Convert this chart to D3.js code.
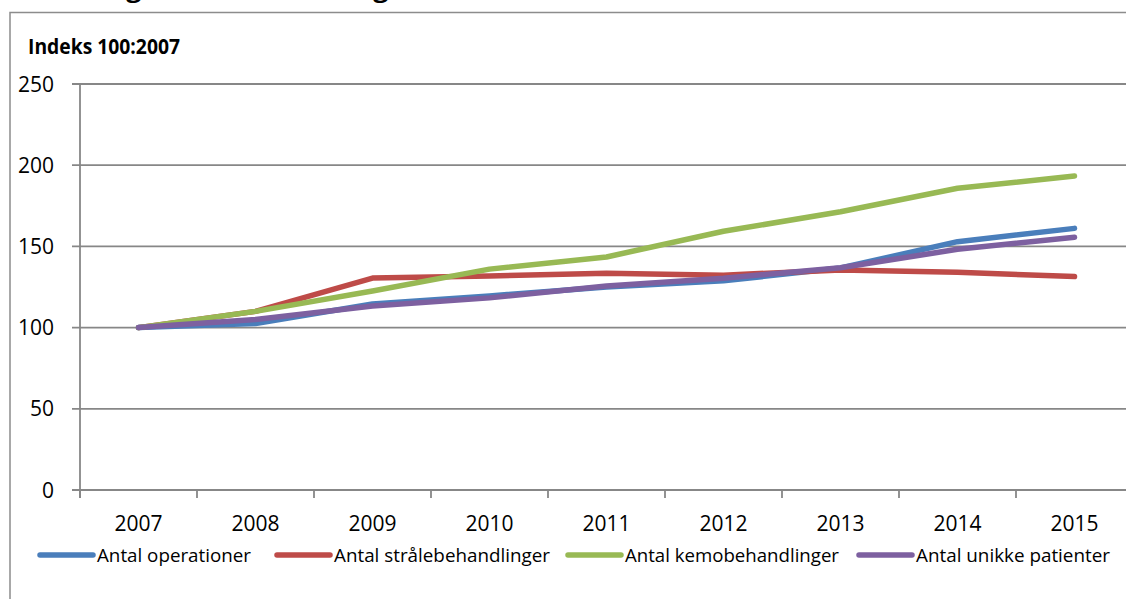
<!DOCTYPE html>
<html>
<head>
  <meta charset="utf-8">
  <title>Indeks 100:2007</title>
  <style>
    body { margin: 0; padding: 0; background: #fff; overflow: hidden; }
    text { font-family: "Open Sans", sans-serif; fill: #000; }
  </style>
</head>
<body>
  <div id="chart"></div>
  <script src="https://d3js.org/d3.v7.min.js"></script>
  <script>
    const years = ['2007', '2008', '2009', '2010', '2011', '2012', '2013', '2014', '2015'];
    const operationer = [100, 102.5, 114.5, 119.5, 125, 128.8, 136.7, 152.9, 161.1];
    const straale = [100, 110, 130.5, 131.8, 133.5, 132.3, 135.5, 134.1, 131.4];
    const kemo = [100, 110, 122.5, 136, 143.5, 159.3, 171.3, 185.8, 193.3];
    const patienter = [100, 105, 113.3, 118.3, 125.6, 130.4, 136.9, 148.2, 155.6];
    const yTicks = [0, 50, 100, 150, 200, 250];

    const series = [
      { name: 'Antal operationer', values: operationer, color: '#4a7ebb' },
      { name: 'Antal strålebehandlinger', values: straale, color: '#be4b48' },
      { name: 'Antal kemobehandlinger', values: kemo, color: '#98b954' },
      { name: 'Antal unikke patienter', values: patienter, color: '#7d60a0' }
    ];

    const width = 1126, height = 599;
    const plot = { left: 80, right: 1133, top: 84, bottom: 490 };

    const svg = d3.select('#chart').append('svg')
      .attr('width', width).attr('height', height);

    // title sits above the crop, only its descenders show
    svg.append('text')
      .attr('x', 16).attr('y', -3)
      .attr('font-size', 24).attr('font-weight', 'bold')
      .attr('textLength', 400).attr('lengthAdjust', 'spacingAndGlyphs')
      .text('Udvikling i antal behandlinger');

    // outer frame (right and bottom sides are outside the picture)
    svg.append('rect')
      .attr('x', 10).attr('y', 12.5)
      .attr('width', 1200).attr('height', 700)
      .attr('fill', 'none').attr('stroke', '#8c8c8c').attr('stroke-width', 1.5);

    const x = d3.scalePoint().domain(years).range([plot.left, plot.right]).padding(0.5);
    const y = d3.scaleLinear().domain([0, 250]).range([plot.bottom, plot.top]);

    // horizontal gridlines
    svg.append('g')
      .selectAll('line')
      .data(yTicks)
      .enter().append('line')
      .attr('x1', plot.left - 8).attr('x2', plot.right)
      .attr('y1', d => y(d)).attr('y2', d => y(d))
      .attr('stroke', '#878787').attr('stroke-width', 1.8);

    svg.append('line')
      .attr('x1', plot.left).attr('x2', plot.left)
      .attr('y1', plot.top).attr('y2', plot.bottom + 8)
      .attr('stroke', '#878787').attr('stroke-width', 1.8);

    // x tick marks on the category edges
    const step = x.step();
    svg.append('g')
      .selectAll('line')
      .data(d3.range(years.length + 1))
      .enter().append('line')
      .attr('x1', i => plot.left + i * step).attr('x2', i => plot.left + i * step)
      .attr('y1', plot.bottom).attr('y2', plot.bottom + 8)
      .attr('stroke', '#878787').attr('stroke-width', 1.8);

    svg.append('g')
      .selectAll('text')
      .data(yTicks)
      .enter().append('text')
      .attr('x', 54).attr('y', d => y(d) + 7.5)
      .attr('text-anchor', 'end')
      .attr('font-size', 21)
      .text(d => d);

    svg.append('g')
      .selectAll('text')
      .data(years)
      .enter().append('text')
      .attr('x', d => x(d)).attr('y', 531)
      .attr('text-anchor', 'middle')
      .attr('font-size', 21)
      .text(d => d);

    svg.append('text')
      .attr('x', 28).attr('y', 54)
      .attr('font-size', 21).attr('font-weight', 'bold')
      .attr('textLength', 152).attr('lengthAdjust', 'spacingAndGlyphs')
      .text('Indeks 100:2007');

    const line = d3.line()
      .x((d, i) => x(years[i]))
      .y(d => y(d));

    svg.append('g')
      .selectAll('path')
      .data(series)
      .enter().append('path')
      .attr('d', d => line(d.values))
      .attr('fill', 'none')
      .attr('stroke', d => d.color)
      .attr('stroke-width', 5.5)
      .attr('stroke-linecap', 'round')
      .attr('stroke-linejoin', 'round');

    // legend
    const legendStart = [40, 277, 568, 859];
    const legendText = [154, 216, 214, 194];
    const items = svg.append('g')
      .selectAll('g')
      .data(series)
      .enter().append('g')
      .attr('transform', (d, i) => `translate(${legendStart[i]},555)`);
    items.append('line')
      .attr('x1', 0).attr('x2', 53).attr('y1', 0).attr('y2', 0)
      .attr('stroke', d => d.color).attr('stroke-width', 5.5)
      .attr('stroke-linecap', 'round');
    items.append('text')
      .attr('x', 57).attr('y', 6.5)
      .attr('font-size', 18)
      .attr('textLength', (d, i) => legendText[i]).attr('lengthAdjust', 'spacingAndGlyphs')
      .text(d => d.name);
  </script>
</body>
</html>
